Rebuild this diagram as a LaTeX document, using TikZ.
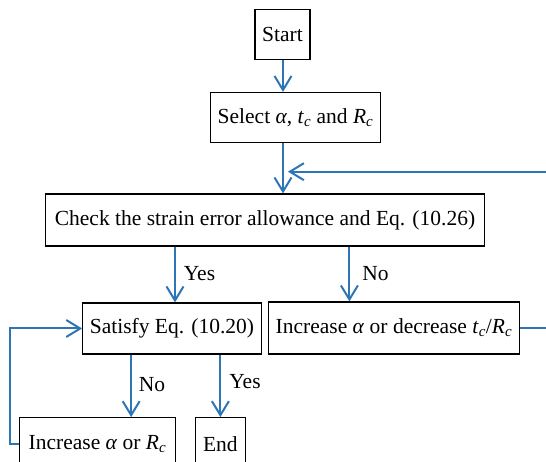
\documentclass[tikz,border=0pt]{standalone}
\usepackage{fontspec}
\setmainfont{Liberation Serif}
\usetikzlibrary{arrows.meta}
\definecolor{flowblue}{RGB}{46,117,182}
\newcommand{\ita}{\textit{α}}
\newcommand{\sbc}[1]{\textit{#1}\textsubscript{\textit{c}}}
\begin{document}
\begin{tikzpicture}[x=1pt,y=1pt,
  box/.style={draw=black,line width=1.2pt,inner sep=0pt,align=center,
    font=\fontsize{21.5}{24}\selectfont},
  lbl/.style={inner sep=0pt,font=\fontsize{21.5}{24}\selectfont},
  arr/.style={draw=flowblue,line width=2pt,
    -{Straight Barb[length=14pt,width=17pt,line width=2pt]}},
  link/.style={draw=flowblue,line width=2pt}]
\useasboundingbox (0,0) rectangle (546,462);
\clip (0,0) rectangle (546,462);
\node[box,minimum width=55pt,minimum height=50pt] (start) at (282.5,427.5) {Start};
\node[box,minimum width=170pt,minimum height=50pt] (select) at (295.5,344.5) {Select \ita, \sbc{t} and \sbc{R}};
\node[box,minimum width=439pt,minimum height=52pt] (check) at (265,242) {Check the strain error allowance and Eq. (10.26)};
\node[box,minimum width=178.5pt,minimum height=51pt] (satisfy) at (172,133.5) {Satisfy Eq. (10.20)};
\node[box,minimum width=251pt,minimum height=52pt] (incr1) at (394,134) {Increase \ita{} or decrease \sbc{t}/\sbc{R}};
\node[box,minimum width=156.6pt,minimum height=52pt] (incr2) at (97.5,18.3) {Increase \ita{} or \sbc{R}};
\node[box,minimum width=50pt,minimum height=52pt] (end) at (220.4,18.3) {End};
% labels
\node[lbl] (y1) at (199.5,188) {Yes};
\node[lbl] (n1) at (375.5,188) {No};
\node[lbl] (n2) at (152,77.4) {No};
\node[lbl] (y2) at (245,80.2) {Yes};
% coordinates
\coordinate (fbr) at (570,290.3);
\coordinate (fbtip) at (288,290.3);
\coordinate (lb) at (10.4,0);
% connectors
\draw[arr] (start.south -| 283,0) -- (select.north -| 283,0);
\draw[arr] (select.south -| 283,0) -- (check.north -| 283,0);
\draw[arr] ([xshift=3pt]check.south -| satisfy.north) -- ([xshift=3pt]satisfy.north);
\draw[arr] ([xshift=81.5pt]incr1.north west |- check.south) -- ([xshift=81.5pt]incr1.north west);
\draw[arr] ([xshift=49pt]satisfy.south west) -- ([xshift=49pt]satisfy.south west |- incr2.north);
\draw[arr] (satisfy.south -| end.north) -- (end.north);
\draw[arr] (incr1.east) -- (incr1.east -| fbr) -- (fbr) -- (fbtip);
\draw[arr] (incr2.west) -- (lb |- incr2.west) |- (satisfy.west);
\end{tikzpicture}
\end{document}
